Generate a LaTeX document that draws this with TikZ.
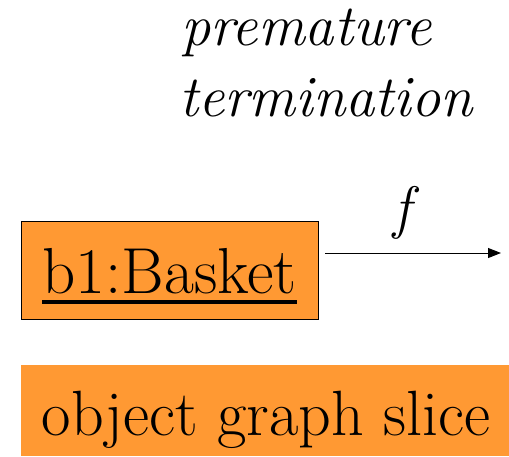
\documentclass[tikz,border=0pt]{standalone}
\usepackage{fontspec}
\usetikzlibrary{arrows.meta}
\definecolor{boxorange}{RGB}{255,153,51}
\tikzset{
  txt/.style={font=\fontsize{65}{65}\selectfont, inner sep=0pt},
  stxt/.style={font=\fontsize{64}{64}\selectfont, inner sep=0pt},
  itxt/.style={font=\fontsize{58.5}{58.5}\selectfont\itshape, inner sep=0pt},
  objbox/.style={draw=black, line width=1pt, fill=boxorange, minimum width=297pt, minimum height=98pt, inner sep=0pt},
  slicebox/.style={fill=boxorange, minimum width=488pt, minimum height=91pt, inner sep=0pt},
  conn/.style={line width=1pt, -{Triangle[length=13pt,width=10pt]}}
}
\begin{document}
\begin{tikzpicture}[x=1pt,y=-1pt]
\useasboundingbox (0,0) rectangle (509,456);
\node[itxt, anchor=base west] (t1) at (181,45) {premature};
\node[itxt, anchor=base west] (t2) at (179,116) {termination};
\node[objbox] (b1) at (169.5,270) {};
\node[txt, anchor=base] (b1t) at (169.5,293) {b1:Basket};
\draw[line width=3.5pt] ([yshift=-9pt]b1t.base west) -- ([yshift=-9pt]b1t.base east);
\coordinate (fend) at (501,253);
\coordinate (fstart) at (325,253);
\draw[conn] (fstart) -- (fend);
\node[itxt, anchor=base] (f) at (402,227) {f};
\node[slicebox] (sl) at (265,410.5) {};
\node[stxt, anchor=base] (slt) at (266,435) {object graph slice};
\end{tikzpicture}
\end{document}
